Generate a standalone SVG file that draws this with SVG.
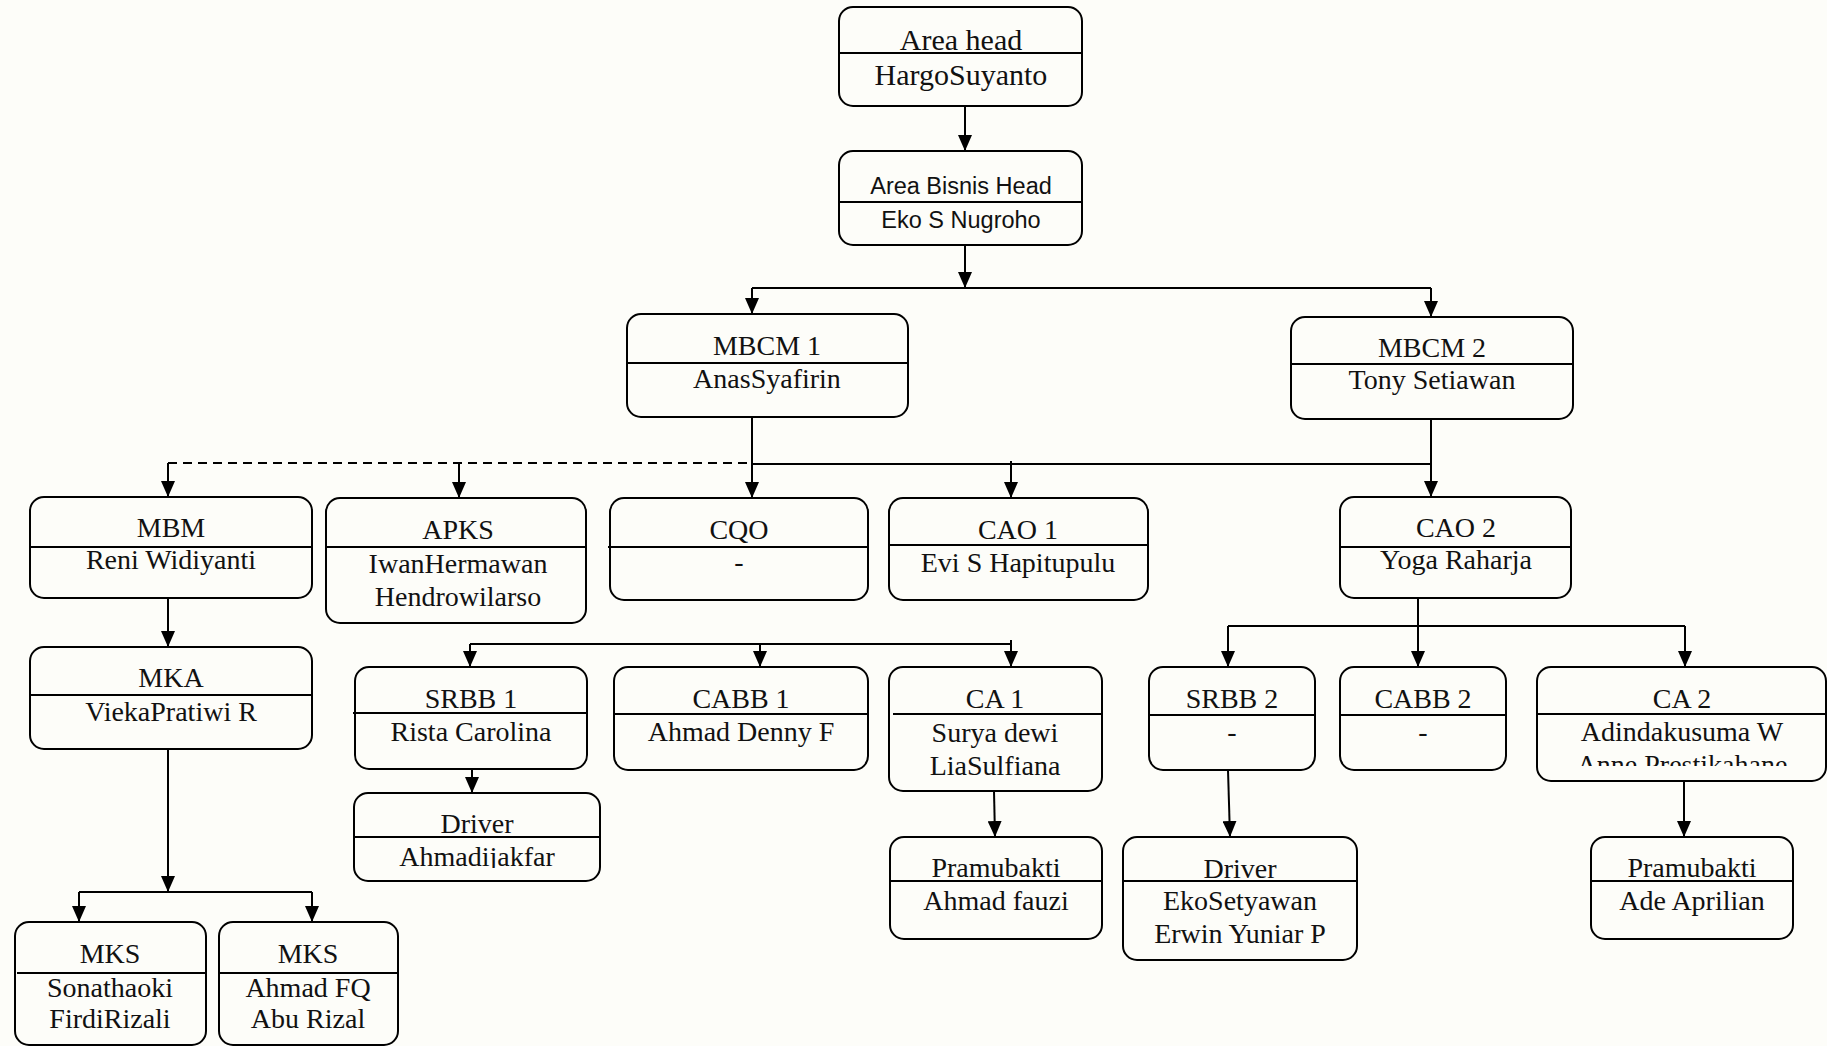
<svg xmlns="http://www.w3.org/2000/svg" width="1827" height="1046" viewBox="0 0 1827 1046">
<style>
.bx{fill:none;stroke:#000;stroke-width:2}
.dv{stroke:#000;stroke-width:2}
.t{font-family:"Liberation Serif","Times New Roman",serif;font-size:28px;text-anchor:middle;fill:#111}
.t30{font-size:30px}
.s{font-family:"Liberation Sans",Arial,sans-serif;font-size:23.5px;text-anchor:middle;fill:#111}
.c{fill:none;stroke:#000;stroke-width:2}
.a{marker-end:url(#ah)}
.d{stroke-dasharray:9 6}
</style>
<defs>
<marker id="ah" viewBox="0 0 16 14" refX="16" refY="7" markerWidth="16" markerHeight="14" markerUnits="userSpaceOnUse" orient="auto">
<path d="M0,0 L16,7 L0,14 z" fill="#000"/>
</marker>
<clipPath id="clipCA2"><rect x="1537" y="714" width="290" height="52"/></clipPath>
<clipPath id="clipDrv1"><rect x="354" y="837" width="246" height="31"/></clipPath>
</defs>
<rect x="0" y="0" width="1827" height="1046" fill="#fdfdf9"/>

<g id="connectors">
<path class="c a" d="M965,106 L965,151"/>
<path class="c a" d="M965,245 L965,288"/>
<path class="c" d="M752,288 L1431,288"/>
<path class="c a" d="M752,288 L752,314"/>
<path class="c a" d="M1431,288 L1431,317"/>
<path class="c a" d="M752,417 L752,498"/>
<path class="c" d="M752,464 L1431,464"/>
<path class="c d" d="M168,463 L750,463"/>
<path class="c a" d="M168,463 L168,497"/>
<path class="c a" d="M459,463 L459,498"/>
<path class="c a" d="M1011,461 L1011,498"/>
<path class="c a" d="M1431,419 L1431,497"/>
<path class="c a" d="M168,598 L168,647"/>
<path class="c a" d="M168,749 L168,892"/>
<path class="c" d="M79,892 L312,892"/>
<path class="c a" d="M79,892 L79,922"/>
<path class="c a" d="M312,892 L312,922"/>
<path class="c" d="M470,644 L1011,644"/>
<path class="c a" d="M470,644 L470,667"/>
<path class="c a" d="M760,644 L760,667"/>
<path class="c a" d="M1011,640 L1011,667"/>
<path class="c a" d="M472,769 L472,793"/>
<path class="c a" d="M994,791 L995,837"/>
<path class="c a" d="M1418,598 L1418,667"/>
<path class="c" d="M1228,626 L1685,626"/>
<path class="c a" d="M1228,626 L1228,667"/>
<path class="c a" d="M1685,626 L1685,667"/>
<path class="c a" d="M1228,770 L1230,837"/>
<path class="c a" d="M1684,781 L1684,837"/>
</g>

<g id="area-head">
<rect class="bx" x="839" y="7" width="243" height="99" rx="14"/>
<line class="dv" x1="839" y1="53" x2="1082" y2="53"/>
<text class="t t30" x="961" y="50">Area head</text>
<text class="t t30" x="961" y="85">HargoSuyanto</text>
</g>

<g id="area-bisnis-head">
<rect class="bx" x="839" y="151" width="243" height="94" rx="14"/>
<line class="dv" x1="839" y1="202" x2="1082" y2="202"/>
<text class="s" x="961" y="194">Area Bisnis Head</text>
<text class="s" x="961" y="228">Eko S Nugroho</text>
</g>

<g id="mbcm1">
<rect class="bx" x="627" y="314" width="281" height="103" rx="14"/>
<line class="dv" x1="627" y1="363" x2="908" y2="363"/>
<text class="t" x="767" y="355">MBCM 1</text>
<text class="t" x="767" y="388">AnasSyafirin</text>
</g>

<g id="mbcm2">
<rect class="bx" x="1291" y="317" width="282" height="102" rx="14"/>
<line class="dv" x1="1291" y1="364" x2="1573" y2="364"/>
<text class="t" x="1432" y="357">MBCM 2</text>
<text class="t" x="1432" y="389">Tony Setiawan</text>
</g>

<g id="mbm">
<rect class="bx" x="30" y="497" width="282" height="101" rx="14"/>
<line class="dv" x1="30" y1="547" x2="312" y2="547"/>
<text class="t" x="171" y="537">MBM</text>
<text class="t" x="171" y="569">Reni Widiyanti</text>
</g>

<g id="apks">
<rect class="bx" x="326" y="498" width="260" height="125" rx="14"/>
<line class="dv" x1="326" y1="547" x2="586" y2="547"/>
<text class="t" x="458" y="539">APKS</text>
<text class="t" x="458" y="573">IwanHermawan</text>
<text class="t" x="458" y="606">Hendrowilarso</text>
</g>

<g id="cqo">
<rect class="bx" x="610" y="498" width="258" height="102" rx="14"/>
<line class="dv" x1="608" y1="547" x2="868" y2="547"/>
<text class="t" x="739" y="539">CQO</text>
<text class="t" x="739" y="571">-</text>
</g>

<g id="cao1">
<rect class="bx" x="889" y="498" width="259" height="102" rx="14"/>
<line class="dv" x1="889" y1="545" x2="1148" y2="545"/>
<text class="t" x="1018" y="539">CAO 1</text>
<text class="t" x="1018" y="572">Evi S Hapitupulu</text>
</g>

<g id="cao2">
<rect class="bx" x="1340" y="497" width="231" height="101" rx="14"/>
<line class="dv" x1="1340" y1="547" x2="1571" y2="547"/>
<text class="t" x="1456" y="537">CAO 2</text>
<text class="t" x="1456" y="569">Yoga Raharja</text>
</g>

<g id="mka">
<rect class="bx" x="30" y="647" width="282" height="102" rx="14"/>
<line class="dv" x1="30" y1="695" x2="312" y2="695"/>
<text class="t" x="171" y="687">MKA</text>
<text class="t" x="171" y="721">ViekaPratiwi R</text>
</g>

<g id="srbb1">
<rect class="bx" x="355" y="667" width="232" height="102" rx="14"/>
<line class="dv" x1="353" y1="713" x2="587" y2="713"/>
<text class="t" x="471" y="708">SRBB 1</text>
<text class="t" x="471" y="741">Rista Carolina</text>
</g>

<g id="cabb1">
<rect class="bx" x="614" y="667" width="254" height="103" rx="14"/>
<line class="dv" x1="614" y1="714" x2="868" y2="714"/>
<text class="t" x="741" y="708">CABB 1</text>
<text class="t" x="741" y="741">Ahmad Denny F</text>
</g>

<g id="ca1">
<rect class="bx" x="889" y="667" width="213" height="124" rx="14"/>
<line class="dv" x1="893" y1="714" x2="1102" y2="714"/>
<text class="t" x="995" y="708">CA 1</text>
<text class="t" x="995" y="742">Surya dewi</text>
<text class="t" x="995" y="775">LiaSulfiana</text>
</g>

<g id="srbb2">
<rect class="bx" x="1149" y="667" width="166" height="103" rx="14"/>
<line class="dv" x1="1149" y1="715" x2="1315" y2="715"/>
<text class="t" x="1232" y="708">SRBB 2</text>
<text class="t" x="1232" y="741">-</text>
</g>

<g id="cabb2">
<rect class="bx" x="1340" y="667" width="166" height="103" rx="14"/>
<line class="dv" x1="1340" y1="715" x2="1506" y2="715"/>
<text class="t" x="1423" y="708">CABB 2</text>
<text class="t" x="1423" y="741">-</text>
</g>

<g id="ca2">
<rect class="bx" x="1537" y="667" width="289" height="114" rx="14"/>
<line class="dv" x1="1537" y1="714" x2="1826" y2="714"/>
<text class="t" x="1682" y="708">CA 2</text>
<text class="t" x="1682" y="741">Adindakusuma W</text>
<g clip-path="url(#clipCA2)"><text class="t" x="1682" y="774">Anne Prestikahane</text></g>
</g>

<g id="driver1">
<rect class="bx" x="354" y="793" width="246" height="88" rx="14"/>
<line class="dv" x1="354" y1="837" x2="600" y2="837"/>
<text class="t" x="477" y="833">Driver</text>
<g clip-path="url(#clipDrv1)"><text class="t" x="477" y="866">Ahmadijakfar</text></g>
</g>

<g id="pramubakti1">
<rect class="bx" x="890" y="837" width="212" height="102" rx="14"/>
<line class="dv" x1="890" y1="881" x2="1102" y2="881"/>
<text class="t" x="996" y="877">Pramubakti</text>
<text class="t" x="996" y="910">Ahmad fauzi</text>
</g>

<g id="driver2">
<rect class="bx" x="1123" y="837" width="234" height="123" rx="14"/>
<line class="dv" x1="1123" y1="881" x2="1357" y2="881"/>
<text class="t" x="1240" y="878">Driver</text>
<text class="t" x="1240" y="910">EkoSetyawan</text>
<text class="t" x="1240" y="943">Erwin Yuniar P</text>
</g>

<g id="pramubakti2">
<rect class="bx" x="1591" y="837" width="202" height="102" rx="14"/>
<line class="dv" x1="1591" y1="881" x2="1793" y2="881"/>
<text class="t" x="1692" y="877">Pramubakti</text>
<text class="t" x="1692" y="910">Ade Aprilian</text>
</g>

<g id="mks1">
<rect class="bx" x="15" y="922" width="191" height="123" rx="14"/>
<line class="dv" x1="17" y1="973" x2="206" y2="973"/>
<text class="t" x="110" y="963">MKS</text>
<text class="t" x="110" y="997">Sonathaoki</text>
<text class="t" x="110" y="1028">FirdiRizali</text>
</g>

<g id="mks2">
<rect class="bx" x="219" y="922" width="179" height="123" rx="14"/>
<line class="dv" x1="219" y1="973" x2="398" y2="973"/>
<text class="t" x="308" y="963">MKS</text>
<text class="t" x="308" y="997">Ahmad FQ</text>
<text class="t" x="308" y="1028">Abu Rizal</text>
</g>
</svg>
